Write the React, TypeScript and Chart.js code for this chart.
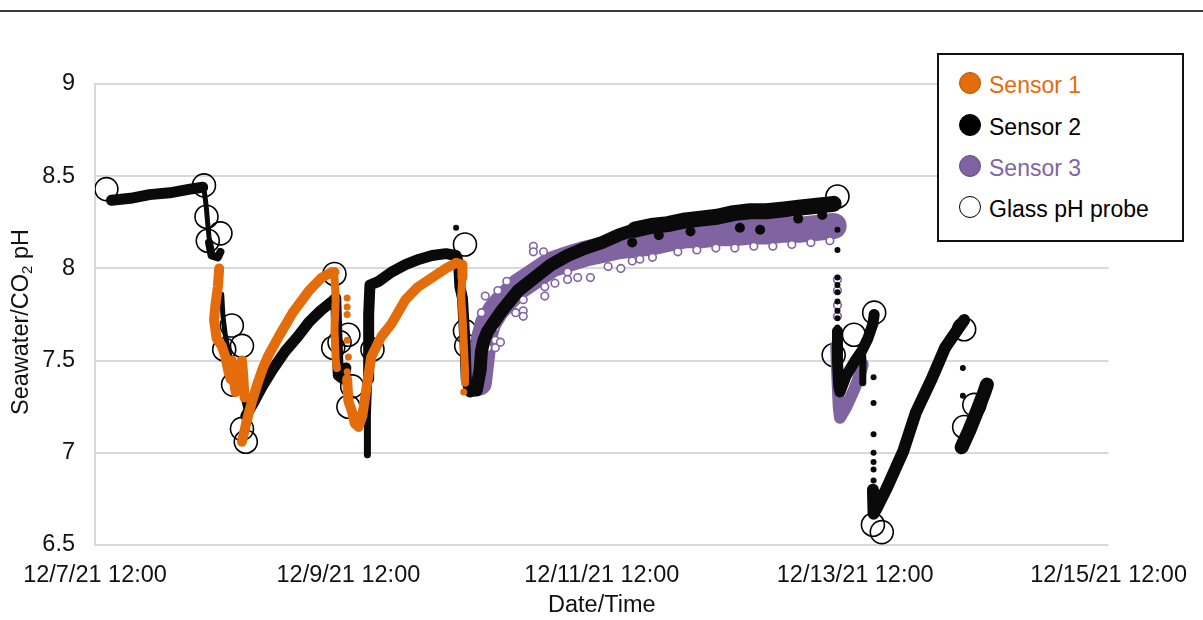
import React, { useEffect, useRef } from 'react';
import { Chart, registerables } from 'chart.js';

Chart.register(...registerables);

type P = [number, number];

// x values: days after 12/7/21 12:00 ; y values: pH
const xTickLabels = ['12/7/21 12:00', '12/9/21 12:00', '12/11/21 12:00', '12/13/21 12:00', '12/15/21 12:00'];
const yTickValues = [6.5, 7, 7.5, 8, 8.5, 9];
const yTickLabels = ['6.5', '7', '7.5', '8', '8.5', '9'];

// ---- Sensor 1 (orange)
const sensor1Drop: P[] = [[0.98, 8.0], [0.97, 7.9], [0.95, 7.8], [0.94, 7.72], [0.96, 7.62], [1.0, 7.58], [1.03, 7.52], [1.05, 7.45], [1.07, 7.4], [1.08, 7.5], [1.09, 7.42], [1.11, 7.33], [1.14, 7.36], [1.16, 7.5], [1.17, 7.42], [1.18, 7.3]];
const sensor1Rise: P[] = [[1.16, 7.06], [1.2, 7.18], [1.24, 7.28], [1.28, 7.37], [1.32, 7.45], [1.37, 7.53], [1.45, 7.63], [1.56, 7.76], [1.69, 7.88], [1.79, 7.95], [1.87, 7.98], [1.89, 7.98]];
const sensor1Drop2: P[] = [[1.89, 7.95], [1.9, 7.83], [1.89, 7.67], [1.9, 7.5], [1.91, 7.46]];
const sensor1Rise2: P[] = [[1.99, 7.4], [2.0, 7.28], [2.03, 7.22], [2.05, 7.16], [2.08, 7.14], [2.11, 7.2], [2.14, 7.34], [2.18, 7.52], [2.26, 7.63], [2.34, 7.7], [2.45, 7.83], [2.55, 7.9], [2.66, 7.95], [2.77, 8.0], [2.85, 8.03], [2.9, 8.02], [2.9, 7.95]];
const sensor1Drop3: P[] = [[2.9, 7.96], [2.89, 7.85], [2.9, 7.75], [2.91, 7.6], [2.92, 7.45], [2.92, 7.38]];
const sensor1Dots: P[] = [[1.99, 7.84], [1.99, 7.79], [1.99, 7.75], [1.99, 7.61], [2.0, 7.52], [1.99, 7.44], [2.91, 7.33], [1.9, 7.88]];

// ---- Sensor 2 (black)
const sensor2Start: P[] = [[0.13, 8.37], [0.28, 8.38], [0.43, 8.4], [0.59, 8.41], [0.75, 8.43], [0.85, 8.44]];
const sensor2Descent: P[] = [[0.86, 8.43], [0.87, 8.38], [0.88, 8.32], [0.89, 8.24], [0.9, 8.17], [0.91, 8.12]];
const sensor2DescentEnd: P[] = [[0.9, 8.14], [0.92, 8.07], [0.97, 8.06], [0.99, 8.09]];
const sensor2Hidden: P[] = [[1.0, 7.86], [1.01, 7.74], [1.03, 7.63], [1.06, 7.54], [1.09, 7.47], [1.13, 7.41], [1.16, 7.33], [1.19, 7.24]];
const sensor2Rise1: P[] = [[1.19, 7.2], [1.25, 7.27], [1.32, 7.36], [1.4, 7.45], [1.5, 7.55], [1.6, 7.63], [1.69, 7.71], [1.78, 7.77], [1.87, 7.82], [1.9, 7.84], [1.91, 7.62], [1.92, 7.42], [1.96, 7.4], [1.98, 7.46]];
const sensor2SpikeLow: P[] = [[2.15, 6.99], [2.15, 7.2], [2.16, 7.4]];
const sensor2Spike: P[] = [[2.16, 7.4], [2.16, 7.5], [2.16, 7.75], [2.17, 7.91], [2.24, 7.93], [2.34, 7.98], [2.45, 8.02], [2.56, 8.05], [2.66, 8.07], [2.77, 8.08], [2.85, 8.07], [2.87, 8.03], [2.88, 7.9], [2.9, 7.84], [2.92, 7.6], [2.93, 7.4], [2.96, 7.33], [3.01, 7.34]];
const sensor2Rise2: P[] = [[3.01, 7.34], [3.04, 7.45], [3.05, 7.55], [3.07, 7.61], [3.1, 7.66], [3.16, 7.72], [3.21, 7.77], [3.34, 7.88], [3.47, 7.95], [3.6, 8.02], [3.73, 8.07], [3.87, 8.11], [4.0, 8.14], [4.13, 8.18], [4.26, 8.21]];
const sensor2Plateau: P[] = [[4.26, 8.21], [4.39, 8.23], [4.52, 8.24], [4.66, 8.26], [4.78, 8.27], [4.91, 8.28], [5.04, 8.3], [5.17, 8.31], [5.3, 8.31], [5.44, 8.32], [5.57, 8.33], [5.7, 8.34], [5.83, 8.35]];
const sensor2Drips: P[] = [[4.24, 8.14], [5.09, 8.22], [5.25, 8.21], [4.45, 8.18], [4.7, 8.2], [5.55, 8.27], [5.74, 8.29]];
const sensor2V: P[] = [[5.86, 7.66], [5.86, 7.5], [5.87, 7.36], [5.88, 7.33], [5.93, 7.42], [6.0, 7.5], [6.05, 7.55], [6.1, 7.62], [6.14, 7.7], [6.15, 7.75]];
const sensor2VDrip: P[] = [[6.06, 7.52], [6.06, 7.38]];
const sensor2Rise3: P[] = [[6.14, 6.8], [6.145, 6.67], [6.17, 6.7], [6.25, 6.81], [6.38, 7.01], [6.48, 7.22], [6.61, 7.41], [6.71, 7.57], [6.84, 7.7], [6.86, 7.72]];
const sensor2End: P[] = [[6.84, 7.03], [6.9, 7.12], [6.97, 7.24], [7.02, 7.33], [7.04, 7.37]];
const sensor2Dots: P[] = [[2.85, 8.22], [5.86, 8.21], [5.86, 8.1], [5.86, 7.95], [5.86, 7.91], [5.86, 7.87], [5.86, 7.82], [5.86, 7.77], [5.86, 7.73], [5.86, 7.68], [6.145, 7.41], [6.145, 7.27], [6.145, 7.1], [6.145, 7.0], [6.145, 6.95], [6.145, 6.91], [6.145, 6.85], [6.85, 7.46], [6.85, 7.31]];

// ---- Sensor 3 (purple)
const sensor3Band: P[] = [[3.03, 7.38], [3.05, 7.5], [3.07, 7.62], [3.1, 7.7], [3.16, 7.77], [3.21, 7.81], [3.34, 7.9], [3.47, 7.96], [3.6, 8.02], [3.73, 8.05], [3.87, 8.08], [4.0, 8.1], [4.13, 8.12], [4.26, 8.13], [4.39, 8.14], [4.52, 8.16], [4.66, 8.18], [4.78, 8.18], [4.91, 8.19], [5.04, 8.19], [5.17, 8.2], [5.3, 8.2], [5.44, 8.21], [5.57, 8.21], [5.7, 8.22], [5.83, 8.23]];
const sensor3V: P[] = [[5.85, 7.58], [5.86, 7.4], [5.87, 7.25], [5.88, 7.19], [5.93, 7.25], [5.99, 7.34], [6.04, 7.43], [6.06, 7.48]];
const sensor3Rings: P[] = [[3.46, 8.12], [3.46, 8.09], [3.54, 8.09], [3.38, 7.83], [3.38, 7.77], [3.38, 7.74], [3.55, 7.9], [3.55, 7.85], [3.63, 7.92], [3.73, 7.98], [3.73, 7.94], [3.81, 7.95], [3.91, 7.95], [4.05, 8.01], [4.15, 8.0], [3.16, 7.68], [3.16, 7.61], [3.16, 7.57], [3.1, 7.63], [3.1, 7.57], [3.08, 7.85], [3.18, 7.88], [3.25, 7.93], [3.05, 7.76], [3.05, 7.5], [3.05, 7.47], [3.32, 7.76], [3.2, 7.6], [4.24, 8.04], [4.4, 8.06], [4.6, 8.09], [4.9, 8.11], [5.2, 8.12], [5.5, 8.13], [5.8, 8.15], [4.3, 8.05], [4.75, 8.1], [5.05, 8.11], [5.35, 8.12], [5.65, 8.14], [5.86, 7.94], [5.86, 7.88], [5.86, 7.8], [5.86, 7.74]];

// ---- Glass pH probe
const glassProbe: P[] = [[0.09, 8.43], [0.86, 8.45], [0.88, 8.28], [0.89, 8.15], [0.99, 8.19], [1.08, 7.69], [1.16, 7.58], [1.02, 7.56], [1.09, 7.37], [1.16, 7.13], [1.19, 7.06], [1.89, 7.97], [2.0, 7.64], [1.93, 7.6], [1.88, 7.57], [2.03, 7.36], [2.0, 7.25], [2.19, 7.56], [2.92, 8.13], [2.92, 7.66], [2.93, 7.58], [5.86, 8.39], [5.83, 7.53], [5.99, 7.64], [6.15, 7.76], [6.14, 6.61], [6.21, 6.57], [6.86, 7.67], [6.94, 7.26], [6.86, 7.14]];

const ORANGE = '#E46C0A';
const BLACK = '#0a0a0a';
const PURPLE = '#8064A2';
const FONT = "'Liberation Sans', Arial, sans-serif";
const TEXT = '#111111';

const pts = (d: P[]) => d.map(([x, y]) => ({ x, y }));

function band(d: P[], color: string, width: number, order: number) {
  return {
    data: pts(d),
    showLine: true,
    borderColor: color,
    backgroundColor: color,
    borderWidth: width,
    borderCapStyle: 'round',
    borderJoinStyle: 'round',
    pointRadius: 0,
    tension: 0,
    fill: false,
    order,
  };
}

function dots(d: P[], color: string, r: number, order: number, fill?: string) {
  return {
    data: pts(d),
    showLine: false,
    pointRadius: r,
    pointBackgroundColor: fill ?? color,
    pointBorderColor: color,
    pointBorderWidth: fill ? 1.6 : 0,
    order,
  };
}

const titlesPlugin = {
  id: 'titles',
  afterDraw(chart: any) {
    const ctx = chart.ctx;
    const a = chart.chartArea;
    ctx.save();
    ctx.fillStyle = TEXT;
    ctx.textBaseline = 'middle';
    ctx.textAlign = 'center';
    ctx.font = `23.5px ${FONT}`;
    ctx.fillText('Date/Time', (a.left + a.right) / 2, a.bottom + 61);
    ctx.translate(22, 322);
    ctx.rotate(-Math.PI / 2);
    const s1 = 'Seawater/CO';
    const s2 = '2';
    const s3 = ' pH';
    ctx.font = `23.5px ${FONT}`;
    const w1 = ctx.measureText(s1).width;
    const w3 = ctx.measureText(s3).width;
    ctx.font = `15px ${FONT}`;
    const w2 = ctx.measureText(s2).width;
    const x0 = -(w1 + w2 + w3) / 2;
    ctx.textAlign = 'left';
    ctx.font = `23.5px ${FONT}`;
    ctx.fillText(s1, x0, 0);
    ctx.font = `15px ${FONT}`;
    ctx.fillText(s2, x0 + w1, 6);
    ctx.font = `23.5px ${FONT}`;
    ctx.fillText(s3, x0 + w1 + w2, 0);
    ctx.restore();
  },
};

const legendItems = [
  { label: 'Sensor 1', fill: ORANGE, border: '#b65406', textColor: ORANGE },
  { label: 'Sensor 2', fill: '#000', border: '#000', textColor: '#000' },
  { label: 'Sensor 3', fill: PURPLE, border: '#5f4a7d', textColor: PURPLE },
  { label: 'Glass pH probe', fill: '#fff', border: '#000', textColor: '#000' },
];

export default function App() {
  const ref = useRef<HTMLCanvasElement | null>(null);

  useEffect(() => {
    if (!ref.current) return;
    const chart = new Chart(ref.current, {
      type: 'scatter',
      data: {
        datasets: [
          dots(glassProbe, '#000', 11.5, 10, 'rgba(255,255,255,0)') as any,
          band(sensor3Band, PURPLE, 26, 8),
          band(sensor3V, PURPLE, 12, 8),
          dots(sensor3Rings, PURPLE, 3.8, 7, '#ffffff') as any,
          band(sensor2Start, BLACK, 11, 5),
          band(sensor2Descent, BLACK, 5, 5),
          band(sensor2DescentEnd, BLACK, 8, 5),
          band(sensor2Hidden, BLACK, 5, 5),
          band(sensor2Rise1, BLACK, 11, 5),
          band(sensor2SpikeLow, BLACK, 7, 5),
          band(sensor2Spike, BLACK, 11, 5),
          band(sensor2Rise2, BLACK, 13, 5),
          band(sensor2Plateau, BLACK, 16, 5),
          band(sensor2V, BLACK, 11, 5),
          band(sensor2VDrip, BLACK, 7, 5),
          band(sensor2Rise3, BLACK, 12, 5),
          band(sensor2End, BLACK, 14, 5),
          dots(sensor2Drips, BLACK, 5, 5) as any,
          dots(sensor2Dots, BLACK, 3, 5) as any,
          band(sensor1Drop, ORANGE, 10, 2),
          band(sensor1Rise, ORANGE, 10, 2),
          band(sensor1Drop2, ORANGE, 8, 2),
          band(sensor1Rise2, ORANGE, 10, 2),
          band(sensor1Drop3, ORANGE, 8, 2),
          dots(sensor1Dots, ORANGE, 3.5, 2) as any,
        ] as any,
      },
      options: {
        animation: false,
        responsive: false,
        devicePixelRatio: 1,
        events: [],
        layout: { padding: { top: 84, right: 90, left: 0, bottom: 0 } },
        plugins: { legend: { display: false }, tooltip: { enabled: false } },
        scales: {
          x: {
            type: 'linear',
            min: 0,
            max: 8,
            afterFit: (s: any) => { s.height = 75; },
            grid: { display: false, drawTicks: false },
            border: { display: false },
            ticks: {
              stepSize: 2,
              autoSkip: false,
              maxRotation: 0,
              padding: 16,
              color: TEXT,
              font: { family: FONT, size: 23.5 },
              callback: (v: any) => xTickLabels[Math.round(Number(v) / 2)] ?? '',
            },
          },
          y: {
            type: 'linear',
            min: yTickValues[0],
            max: yTickValues[yTickValues.length - 1],
            afterFit: (s: any) => { s.width = 95; },
            grid: { color: '#D9D9D9', lineWidth: 2, drawTicks: false },
            border: { display: true, color: '#D9D9D9', width: 2 },
            ticks: {
              stepSize: 0.5,
              padding: 20,
              color: TEXT,
              font: { family: FONT, size: 23.5 },
              callback: (v: any) => {
                const i = yTickValues.findIndex((t) => Math.abs(t - Number(v)) < 1e-6);
                return i >= 0 ? yTickLabels[i] : '';
              },
            },
          },
        },
      } as any,
      plugins: [titlesPlugin],
    });
    return () => chart.destroy();
  }, []);

  const rowY = [85, 127, 168, 209];
  return (
    <div style={{ position: 'fixed', left: 0, top: 0, width: 1203, height: 620, background: '#fff', overflow: 'hidden' }}>
      <canvas ref={ref} width={1203} height={620} style={{ display: 'block', width: 1203, height: 620 }} />
      <div style={{ position: 'absolute', left: 0, top: 10, width: 1203, height: 2, background: '#3a3a3a' }} />
      <div style={{ position: 'absolute', left: 937, top: 53, width: 243, height: 185, border: '2px solid #111', background: '#fff', boxSizing: 'content-box' }} />
      {legendItems.map((it, i) => (
        <React.Fragment key={it.label}>
          <div style={{
            position: 'absolute', left: 970 - 11, top: rowY[i] - 2 - 11, width: 20, height: 20, borderRadius: '50%',
            background: it.fill, border: `1.2px solid ${it.border}`,
          }} />
          <div style={{
            position: 'absolute', left: 989, top: rowY[i] + 2 - 15, height: 30, lineHeight: '30px',
            font: `23px ${FONT}`, color: it.textColor, whiteSpace: 'nowrap',
          }}>{it.label}</div>
        </React.Fragment>
      ))}
    </div>
  );
}
